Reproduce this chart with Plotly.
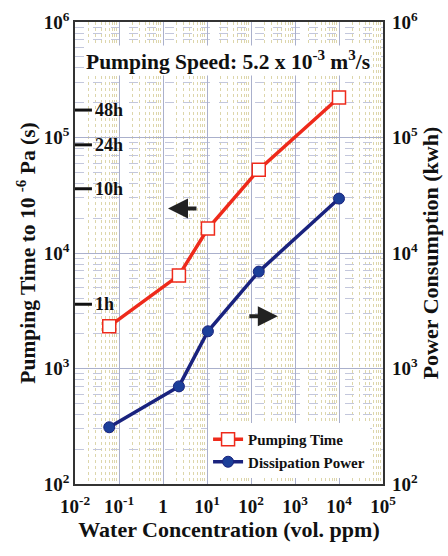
import numpy as np
import plotly.graph_objects as go

water_ppm = [0.06, 2.3, 10.5, 150, 10000]
pumping_time_s = [2320, 6400, 16300, 52600, 222000]
power_kwh = [310, 700, 2100, 6900, 29600]

hour_labels = ["48h", "24h", "10h", "1h"]
hour_values = [48, 24, 10, 1]

x_tickvals = [0.01, 0.1, 1, 10, 100, 1000, 10000, 100000]
x_ticktext = ["<b>10<sup>-2</sup></b>", "<b>10<sup>-1</sup></b>", "<b>1</b>", "<b>10<sup>1</sup></b>",
              "<b>10<sup>2</sup></b>", "<b>10<sup>3</sup></b>", "<b>10<sup>4</sup></b>", "<b>10<sup>5</sup></b>"]
y_tickvals = [100, 1000, 10000, 100000, 1000000]
y_ticktext = ["<b>10<sup>2</sup></b>", "<b>10<sup>3</sup></b>", "<b>10<sup>4</sup></b>",
              "<b>10<sup>5</sup></b>", "<b>10<sup>6</sup></b>"]

FONT = "Liberation Serif"

fig = go.Figure()
fig.add_trace(go.Scatter(
    x=water_ppm, y=pumping_time_s, name="<b>Pumping Time</b>", mode="lines+markers",
    line=dict(color="#ee2a1b", width=3.5),
    marker=dict(symbol="square", size=13, color="white", line=dict(color="#ee2a1b", width=1.5)),
))
fig.add_trace(go.Scatter(
    x=water_ppm, y=power_kwh, name="<b>Dissipation Power</b>", mode="lines+markers", yaxis="y2",
    line=dict(color="#1a237e", width=3.5),
    marker=dict(symbol="circle", size=11, color="#1c3f99", line=dict(color="#1a237e", width=1)),
))

tickfont = dict(family=FONT, size=19, color="#111")

fig.update_layout(
    width=448, height=556, plot_bgcolor="white", paper_bgcolor="white",
    margin=dict(l=75, r=65, t=22, b=72, autoexpand=False),
    font=dict(family=FONT, color="#111"),
    xaxis=dict(
        type="log", range=[-2, 5], tickvals=x_tickvals, ticktext=x_ticktext, tickfont=tickfont,
        showline=True, linecolor="#333", linewidth=1.5, mirror=True, zeroline=False, automargin=False,
        gridcolor="#aab0cc", gridwidth=1,
        minor=dict(dtick="D1", showgrid=True, gridcolor="#ddd6ab", griddash="dot", gridwidth=1.2),
        ticklabelstandoff=4,
        title=dict(text="<b>Water Concentration (vol. ppm)</b>", font=dict(family=FONT, size=22), standoff=4)),
    yaxis=dict(
        type="log", range=[2, 6], tickvals=y_tickvals, ticktext=y_ticktext, tickfont=tickfont,
        showline=True, linecolor="#333", linewidth=1.5, mirror=True, zeroline=False, automargin=False,
        gridcolor="#aab0cc", gridwidth=1,
        minor=dict(dtick="D1", showgrid=True, gridcolor="#c3c7dc", griddash="dash", gridwidth=1),
        ticklabelstandoff=0,
        title=dict(text="<b>Pumping Time to 10 <sup>-6</sup> Pa (s)</b>", font=dict(family=FONT, size=21.5), standoff=2)),
    yaxis2=dict(
        type="log", range=[2, 6], tickvals=y_tickvals, ticktext=y_ticktext, tickfont=tickfont,
        overlaying="y", side="right", showgrid=False, zeroline=False, automargin=False,
        ticklabelstandoff=8,
        title=dict(text="<b>Power Consumption (kwh)</b>", font=dict(family=FONT, size=22), standoff=2)),
    legend=dict(x=0.958, y=0.013, xanchor="right", yanchor="bottom", bgcolor="white",
                font=dict(family=FONT, size=15, color="#111"), tracegroupgap=6),
    showlegend=True,
)

annotations = [
    dict(text="<b>Pumping Speed: 5.2 x 10<sup>-3</sup> m<sup>3</sup>/s</b>", xref="paper", yref="paper",
         x=0.497, y=0.95, showarrow=False, bgcolor="white", font=dict(family=FONT, size=21.5, color="#111")),
    dict(x=np.log10(1.3), y=np.log10(24300), xref="x", yref="y", ax=30, ay=0,
         showarrow=True, arrowhead=2, arrowsize=1, arrowwidth=4, arrowcolor="#222", text=""),
    dict(x=np.log10(407), y=np.log10(2830), xref="x", yref="y", ax=-30, ay=0,
         showarrow=True, arrowhead=2, arrowsize=1, arrowwidth=4, arrowcolor="#222", text=""),
]
for lab, h in zip(hour_labels, hour_values):
    yv = np.log10(h * 3600)
    fig.add_shape(type="line", xref="x domain", yref="y", x0=0, x1=0.055, y0=h * 3600, y1=h * 3600,
                  line=dict(color="#111", width=3))
    annotations.append(dict(text=f"<b>{lab}</b>", xref="x domain", yref="y", x=0.06, y=yv,
                            xanchor="left", showarrow=False, font=dict(family=FONT, size=18, color="#111")))
fig.update_layout(annotations=annotations)

fig.write_html("out.html", config={"displayModeBar": False},
               post_script="document.body.style.margin='0';")
